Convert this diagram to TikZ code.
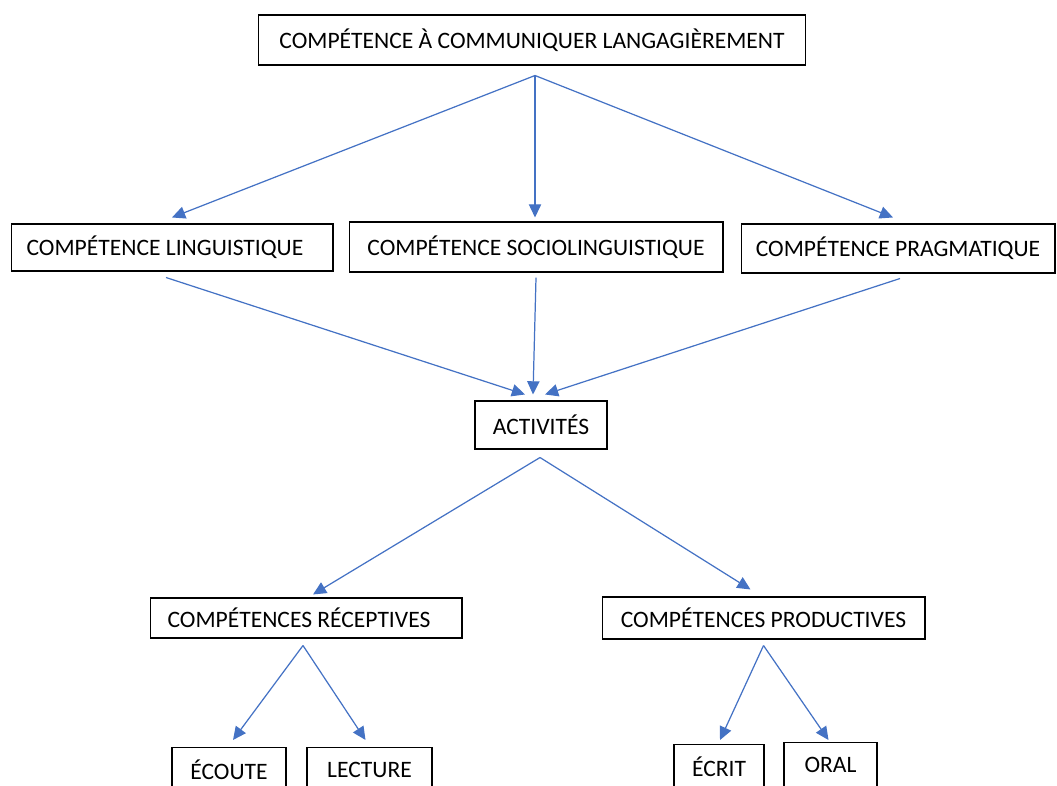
\documentclass[tikz,border=0pt]{standalone}
\usepackage{fontspec}
\setmainfont{Carlito}
\usetikzlibrary{arrows.meta,
                calc,
                positioning
            }
\definecolor{linkblue}{HTML}{4472C4}

\begin{document}
\begin{tikzpicture}[x=0.02cm, y=-0.02cm,
        box/.style={draw, line width=0.6pt, inner sep=0pt, minimum height=0.96cm,
                    font=\fontsize{13.4}{16}\selectfont},
        link/.style={draw=linkblue, line width=0.7pt,
                     -{Triangle[length=7.5pt, width=7pt, fill=linkblue]}}]
            \useasboundingbox (0,0) rectangle (1057,786);
            \clip (0,0) rectangle (1057,786);
            % top
            \node[box, minimum width=10.96cm, minimum height=1cm] (top) at (532,40) {COMPÉTENCE À COMMUNIQUER LANGAGIÈREMENT};
            % competences
            \node[box, minimum width=6.44cm, minimum height=0.94cm] (ling) at (172,247.5) {COMPÉTENCE LINGUISTIQUE\hspace*{8pt}};
            \node[box, minimum width=7.48cm, minimum height=1cm] (socio) at (536,247) {COMPÉTENCE SOCIOLINGUISTIQUE};
            \node[box, minimum width=6.28cm, minimum height=0.98cm] (prag) at (898,248.5) {COMPÉTENCE PRAGMATIQUE};
            % activites
            \node[box, minimum width=2.64cm] (act) at (541,425) {ACTIVITÉS};
            \node[box, minimum width=6.24cm, minimum height=0.8cm] (recep) at (306,618) {COMPÉTENCES RÉCEPTIVES\hspace*{8pt}};
            \node[box, minimum width=6.46cm, minimum height=0.84cm] (prod) at (763.5,618) {COMPÉTENCES PRODUCTIVES};
            % bottom row (cut by the page edge)
            \node[box, anchor=north, minimum width=2.28cm, minimum height=0.88cm] (ecoute) at (229,747) {ÉCOUTE};
            \node[box, anchor=north, minimum width=2.5cm, minimum height=0.88cm] (lecture) at (369.5,747) {LECTURE};
            \node[box, anchor=north, minimum width=1.8cm, minimum height=0.88cm] (ecrit) at (719,744) {ÉCRIT};
            \node[box, anchor=north, minimum width=1.86cm, minimum height=0.88cm] (oral) at (830.5,742) {ORAL};

            \draw[link] ($(top.south)+(3,10)$) -- ($(ling.north)+(0,-6)$);
            \draw[link] ($(top.south)+(3,10)$) -- ($(socio.north)+(-1,-4)$);
            \draw[link] ($(top.south)+(3,10)$) -- ($(prag.north)+(-5,-6)$);

            \draw[link] ($(ling.south)+(-6,6)$) -- ($(act.north)+(-16,-6)$);
            \draw[link] ($(socio.south)+(0,5)$) -- ($(act.north)+(-8,-6)$);
            \draw[link] ($(prag.south)+(2,5)$) -- ($(act.north)+(4,-6)$);

            \draw[link] ($(act.south)+(-1,8)$) -- ($(recep.north)+(7,-3)$);
            \draw[link] ($(act.south)+(-1,8)$) -- ($(prod.north)+(-13,-7)$);

            \draw[link] ($(recep.south)+(-3,7)$) -- ($(ecoute.north)+(4,-7)$);
            \draw[link] ($(recep.south)+(-3,7)$) -- ($(lecture.north)+(-4,-7)$);
            \draw[link] ($(prod.south)+(0,6)$) -- ($(ecrit.north)+(1,-4)$);
            \draw[link] ($(prod.south)+(0,6)$) -- ($(oral.north)+(-2,-2)$);
        \end{tikzpicture}
\end{document}
